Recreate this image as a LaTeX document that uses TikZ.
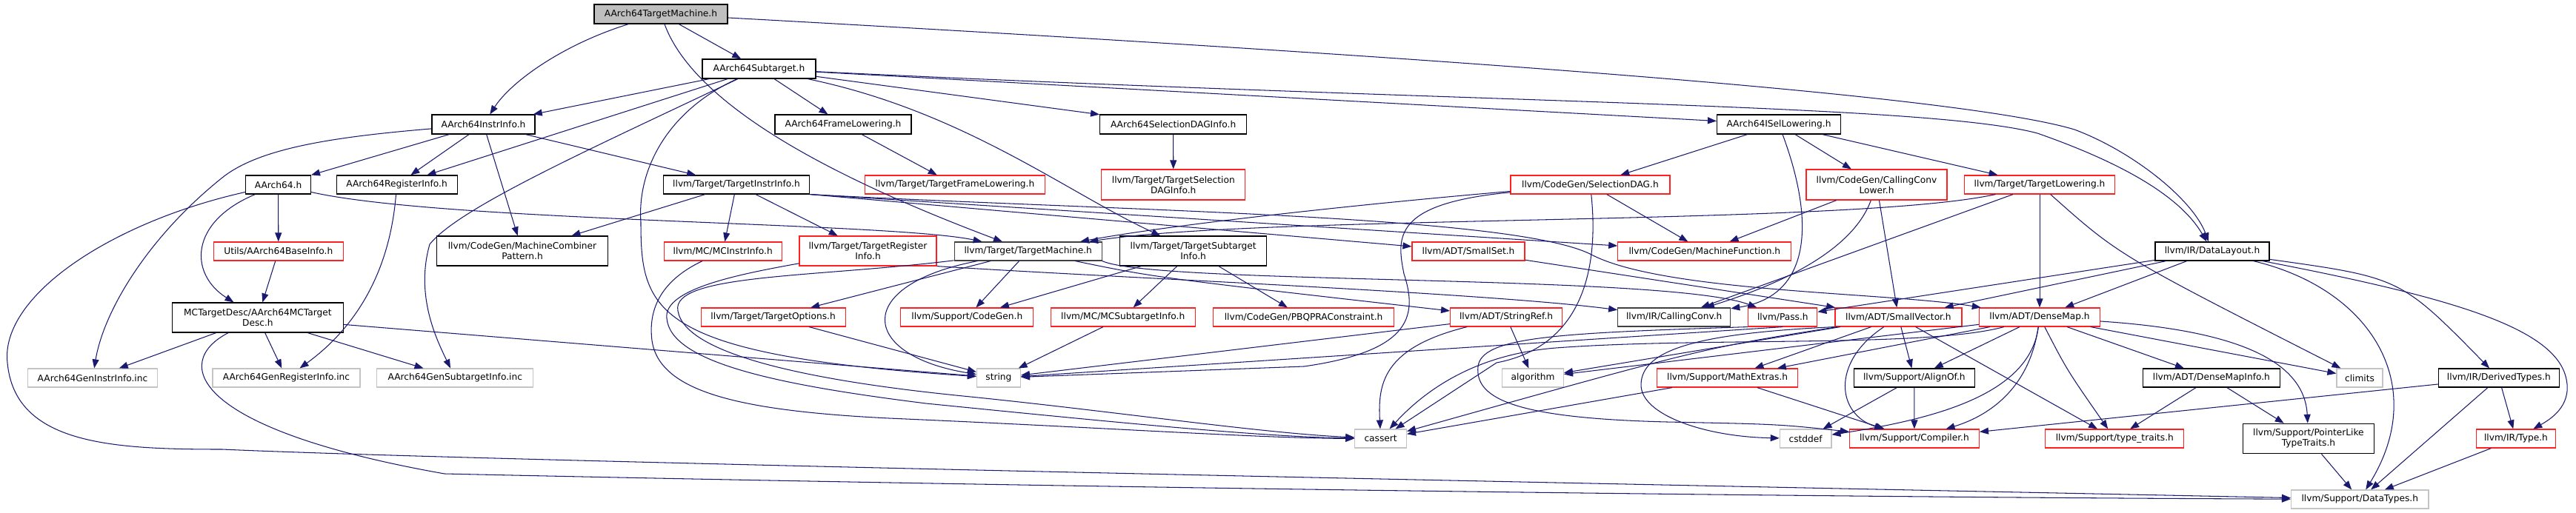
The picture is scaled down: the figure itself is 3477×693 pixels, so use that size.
\documentclass[tikz,border=0pt]{standalone}
\usepackage{fontspec}
\setmainfont{DejaVu Sans}
\usetikzlibrary{arrows.meta}
\definecolor{edgec}{HTML}{191970}
\definecolor{rootfill}{HTML}{BFBFBF}
\definecolor{sysgray}{HTML}{C4C4C4}
\definecolor{redb}{HTML}{FF2020}
\definecolor{dkb}{HTML}{404040}
\newcommand{\nfs}{\fontsize{12.2}{14}\selectfont}
\tikzset{
  nd/.style={rectangle, inner sep=0pt, minimum height=25, align=center, font=\nfs, line width=1.15pt},
  blk/.style={nd, draw=black},
  dk/.style={nd, draw=dkb},
  rd/.style={nd, draw=redb},
  gr/.style={nd, draw=sysgray},
  e/.style={draw=edgec, line width=1.05pt, -{Triangle[length=12pt,width=9pt]}},
}
\begin{document}
\begin{tikzpicture}[x=1pt,y=-1pt]
\useasboundingbox (0,0) rectangle (3477,693);
% nodes
\node[blk, fill=rootfill, minimum width=180, minimum height=26] (tm) at (892,19) {AArch64TargetMachine.h};
\node[blk, minimum width=153, minimum height=26] (sub) at (1024.5,93) {AArch64Subtarget.h};
\node[blk, minimum width=139, minimum height=26] (ii) at (652.5,168) {AArch64InstrInfo.h};
\node[blk, minimum width=184, minimum height=26] (fl) at (1138,168) {AArch64FrameLowering.h};
\node[blk, minimum width=198, minimum height=26] (sdi) at (1583.6,168) {AArch64SelectionDAGInfo.h};
\node[blk, minimum width=167, minimum height=26] (isl) at (2401,168) {AArch64ISelLowering.h};
\node[blk, minimum width=88] (a64) at (375.6,249.5) {AArch64.h};
\node[blk, minimum width=163] (ri) at (535.6,249.5) {AArch64RegisterInfo.h};
\node[blk, minimum width=197.5] (tii) at (994,249.5) {llvm/Target/TargetInstrInfo.h};
\node[rd, minimum width=243] (tfl) at (1289,249.5) {llvm/Target/TargetFrameLowering.h};
\node[rd, minimum width=194, minimum height=41] (tsdi) at (1583.8,249.5) {llvm/Target/TargetSelection\\DAGInfo.h};
\node[rd, minimum width=215] (sdag) at (2146.4,249.5) {llvm/CodeGen/SelectionDAG.h};
\node[rd, minimum width=190, minimum height=41] (ccl) at (2533,249.5) {llvm/CodeGen/CallingConv\\Lower.h};
\node[rd, minimum width=203] (tl) at (2753,249.5) {llvm/Target/TargetLowering.h};
\node[blk, minimum width=154] (dl) at (2986,339.5) {llvm/IR/DataLayout.h};
\node[rd, minimum width=175] (bi) at (375.8,339.5) {Utils/AArch64BaseInfo.h};
\node[blk, minimum width=231, minimum height=40] (mcp) at (705,339) {llvm/CodeGen/MachineCombiner\\Pattern.h};
\node[rd, minimum width=159] (mcii) at (975.7,339.5) {llvm/MC/MCInstrInfo.h};
\node[rd, minimum width=185, minimum height=40] (tri) at (1171.5,339) {llvm/Target/TargetRegister\\Info.h};
\node[dk, minimum width=199] (tmach) at (1387.7,339.5) {llvm/Target/TargetMachine.h};
\node[blk, minimum width=198.6, minimum height=40] (tsi) at (1610.6,339) {llvm/Target/TargetSubtarget\\Info.h};
\node[rd, minimum width=152] (sset) at (1982,339.5) {llvm/ADT/SmallSet.h};
\node[rd, minimum width=234] (mf) at (2300.8,339.5) {llvm/CodeGen/MachineFunction.h};
\node[blk, minimum width=231, minimum height=40] (mctd) at (347.9,429) {MCTargetDesc/AArch64MCTarget\\Desc.h};
\node[rd, minimum width=195] (topt) at (1043.6,428.5) {llvm/Target/TargetOptions.h};
\node[rd, minimum width=179] (cg) at (1305.3,428.5) {llvm/Support/CodeGen.h};
\node[rd, minimum width=195] (mcsi) at (1515.7,428.5) {llvm/MC/MCSubtargetInfo.h};
\node[rd, minimum width=244] (pbqp) at (1759.6,428.5) {llvm/CodeGen/PBQPRAConstraint.h};
\node[rd, minimum width=151] (sref) at (2033.1,428.5) {llvm/ADT/StringRef.h};
\node[dk, minimum width=152] (cc) at (2259.7,428.5) {llvm/IR/CallingConv.h};
\node[rd, minimum width=93] (pass) at (2406.3,428.5) {llvm/Pass.h};
\node[rd, minimum width=171] (svec) at (2562.4,428.5) {llvm/ADT/SmallVector.h};
\node[rd, minimum width=162.6] (dmap) at (2753,428.5) {llvm/ADT/DenseMap.h};
\node[gr, minimum width=175] (gii) at (125,510.5) {AArch64GenInstrInfo.inc};
\node[gr, minimum width=199] (gri) at (386.5,510.5) {AArch64GenRegisterInfo.inc};
\node[gr, minimum width=211] (gsi) at (614.3,510.5) {AArch64GenSubtargetInfo.inc};
\node[gr, minimum width=59] (str) at (1347.9,510.5) {string};
\node[gr, minimum width=82.6] (algo) at (2069.1,510.5) {algorithm};
\node[rd, minimum width=190.5] (mext) at (2331.6,510.5) {llvm/Support/MathExtras.h};
\node[blk, minimum width=162.6] (align) at (2583.8,510.5) {llvm/Support/AlignOf.h};
\node[blk, minimum width=185.7] (dmi) at (2984.9,510.5) {llvm/ADT/DenseMapInfo.h};
\node[gr, minimum width=62] (clim) at (3185,510.5) {climits};
\node[blk, minimum width=162.7] (dt) at (3372.9,510.5) {llvm/IR/DerivedTypes.h};
\node[gr, minimum width=69.6] (cas) at (1863.6,592.5) {cassert};
\node[gr, minimum width=69.6] (csd) at (2437.1,592.5) {cstddef};
\node[rd, minimum width=175] (comp) at (2583.9,592.5) {llvm/Support/Compiler.h};
\node[rd, minimum width=187] (tt) at (2854.3,592.5) {llvm/Support/type\_traits.h};
\node[blk, minimum width=177.7, minimum height=40.4] (plt) at (3115.9,592.5) {llvm/Support/PointerLike\\TypeTraits.h};
\node[rd, minimum width=107] (type) at (3395.9,592.5) {llvm/IR/Type.h};
\node[gr, minimum width=185.4] (dty) at (3185.2,674.5) {llvm/Support/DataTypes.h};

% AArch64TargetMachine.h
\draw[e] (tm) .. controls (760,60) and (690,110) .. (ii);
\draw[e] (tm) -- (sub);
\draw[e] (tm) .. controls (2000,80) and (2650,130) .. (2800,175) .. controls (2880,205) and (2960,270) .. (dl);
\draw[e] (tm) .. controls (940,150) and (1150,250) .. (tmach);
% AArch64Subtarget.h
\draw[e] (sub) -- (ii);
\draw[e] (sub) -- (ri);
\draw[e] (sub) .. controls (800,200) and (620,280) .. (580,330) .. controls (560,400) and (590,460) .. (gsi);
\draw[e] (sub) .. controls (900,150) and (860,230) .. (865,300) .. controls (865,420) and (880,480) .. (str);
\draw[e] (sub) -- (fl);
\draw[e] (sub) -- (sdi);
\draw[e] (sub) .. controls (1300,150) and (1440,260) .. (tsi);
\draw[e] (sub) -- (isl);
\draw[e] (sub) .. controls (2000,140) and (2600,140) .. (2750,180) .. controls (2850,215) and (2940,260) .. (dl);
% AArch64InstrInfo.h
\draw[e] (ii) -- (a64);
\draw[e] (ii) -- (ri);
\draw[e] (ii) -- (mcp);
\draw[e] (ii) -- (tii);
\draw[e] (ii) .. controls (450,185) and (350,200) .. (300,240) .. controls (200,320) and (140,420) .. (gii);
% AArch64.h
\draw[e] (a64) -- (bi);
\draw[e] (a64) .. controls (255,300) and (255,370) .. (mctd);
\draw[e] (a64) .. controls (600,300) and (1200,300) .. (tmach);
\draw[e] (a64) .. controls (150,300) and (0,400) .. (10,490) .. controls (20,600) and (150,607) .. (300,607) .. controls (700,625) and (2500,660) .. (dty);
% others, left part
\draw[e] (ri) .. controls (525,380) and (470,450) .. (gri);
\draw[e] (bi) -- (mctd);
\draw[e] (mctd) -- (gii);
\draw[e] (mctd) -- (gri);
\draw[e] (mctd) -- (gsi);
\draw[e] (mctd) -- (str);
\draw[e] (mctd) .. controls (230,490) and (260,580) .. (600,640) .. controls (1500,660) and (2500,672) .. (dty);
\draw[e] (fl) -- (tfl);
\draw[e] (sdi) -- (tsdi);
% TargetInstrInfo.h
\draw[e] (tii) -- (mcp);
\draw[e] (tii) -- (mcii);
\draw[e] (tii) -- (tri);
\draw[e] (tii.south east) .. controls (1500,285) and (2050,290) .. (2150,345) .. controls (2250,395) and (2550,395) .. (dmap);
\draw[e] (tii.south east) -- (mf);
\draw[e] (tii.south east) -- (sset);
% loops into cassert
\draw[e] (mcii) .. controls (890,380) and (875,420) .. (880,460) .. controls (890,530) and (1000,555) .. (1200,565) .. controls (1500,578) and (1700,592) .. (cas);
\draw[e] (tri) .. controls (1000,370) and (895,390) .. (900,430) .. controls (905,490) and (1050,520) .. (1250,545) .. controls (1500,570) and (1700,590) .. (cas);
\draw[e] (tmach) .. controls (1100,375) and (905,370) .. (915,420) .. controls (925,480) and (1100,515) .. (1300,535) .. controls (1500,555) and (1700,585) .. (cas);
\draw[e] (tri.south east) .. controls (1500,375) and (2000,395) .. (cc);
% TargetMachine.h
\draw[e] (tmach) -- (topt);
\draw[e] (tmach) -- (cg);
\draw[e] (tmach) .. controls (1150,385) and (1160,480) .. (str);
\draw[e] (tmach) .. controls (1560,375) .. (sref);
\draw[e] (tmach.south east) .. controls (1560,385) and (2250,370) .. (pass);
\draw[e] (topt) -- (str);
\draw[e] (tsi) -- (cg);
\draw[e] (tsi) -- (mcsi);
\draw[e] (tsi) -- (pbqp);
\draw[e] (mcsi) -- (str);
% SelectionDAG.h
\draw[e] (sdag) .. controls (1900,270) and (1600,300) .. (tmach);
\draw[e] (sdag) -- (mf);
\draw[e] (sdag) .. controls (1880,275) and (1885,320) .. (1895,370) .. controls (1915,430) and (1900,475) .. (1760,495) -- (str);
\draw[e] (sdag) .. controls (2160,380) and (2125,470) .. (2020,490) -- (cas);
% ISelLowering / CallingConvLower / TargetLowering
\draw[e] (isl) -- (sdag);
\draw[e] (isl) -- (ccl);
\draw[e] (isl) -- (tl);
\draw[e] (isl) .. controls (2450,300) and (2445,400) .. (cc);
\draw[e] (ccl) -- (mf);
\draw[e] (ccl) .. controls (2500,340) and (2400,385) .. (cc);
\draw[e] (ccl) -- (svec);
\draw[e] (tl) .. controls (2500,305) and (1700,290) .. (tmach);
\draw[e] (tl) -- (cc);
\draw[e] (tl) -- (dmap);
\draw[e] (tl) .. controls (2860,345) .. (clim);
% StringRef, Pass, SmallSet
\draw[e] (sref) -- (algo);
\draw[e] (sref) .. controls (1865,470) and (1860,520) .. (cas);
\draw[e] (sref) -- (str);
\draw[e] (pass.south) -- (str);
\draw[e] (pass.south west) .. controls (2100,450) and (2000,455) .. (1995,495) .. controls (1990,540) and (2050,565) .. (2250,570) .. controls (2400,573) .. (comp);
\draw[e] (sset) -- (svec);
% SmallVector
\draw[e] (svec) -- (mext);
\draw[e] (svec) .. controls (2470,490) and (2480,560) .. (comp);
\draw[e] (svec) -- (align);
\draw[e] (svec) -- (tt);
\draw[e] (svec) -- (algo);
\draw[e] (svec) .. controls (2300,470) .. (cas);
\draw[e] (svec.south west) .. controls (2300,450) and (2215,470) .. (2215,520) .. controls (2215,560) and (2300,590) .. (csd);
% DenseMap
\draw[e] (dmap) -- (align);
\draw[e] (dmap) .. controls (2740,520) and (2690,560) .. (comp);
\draw[e] (dmap) .. controls (2740,530) and (2620,565) .. (csd);
\draw[e] (dmap) .. controls (2790,500) .. (tt);
\draw[e] (dmap) -- (dmi);
\draw[e] (dmap) .. controls (3000,445) and (3110,480) .. (plt);
\draw[e] (dmap) -- (clim);
\draw[e] (dmap) -- (mext);
\draw[e] (dmap) -- (algo);
\draw[e] (dmap) .. controls (2600,470) and (2300,455) .. (2100,470) .. controls (2000,478) and (1930,520) .. (cas);
% lower support headers
\draw[e] (mext) -- (comp);
\draw[e] (mext) -- (cas);
\draw[e] (align) -- (comp);
\draw[e] (align) -- (csd);
\draw[e] (dmi) -- (tt);
\draw[e] (dmi) -- (plt);
\draw[e] (dt) -- (type);
\draw[e] (dt) -- (dty);
\draw[e] (dt) -- (comp);
\draw[e] (type) -- (dty);
\draw[e] (plt) -- (dty);
% DataLayout.h
\draw[e] (dl) -- (dmap);
\draw[e] (dl) -- (svec);
\draw[e] (dl) -- (pass);
\draw[e] (dl) .. controls (3240,375) .. (dt);
\draw[e] (dl) .. controls (3300,400) and (3440,440) .. (3462,505) .. controls (3475,545) and (3445,565) .. (type);
\draw[e] (dl) .. controls (3200,390) and (3280,520) .. (dty);
\end{tikzpicture}
\end{document}
